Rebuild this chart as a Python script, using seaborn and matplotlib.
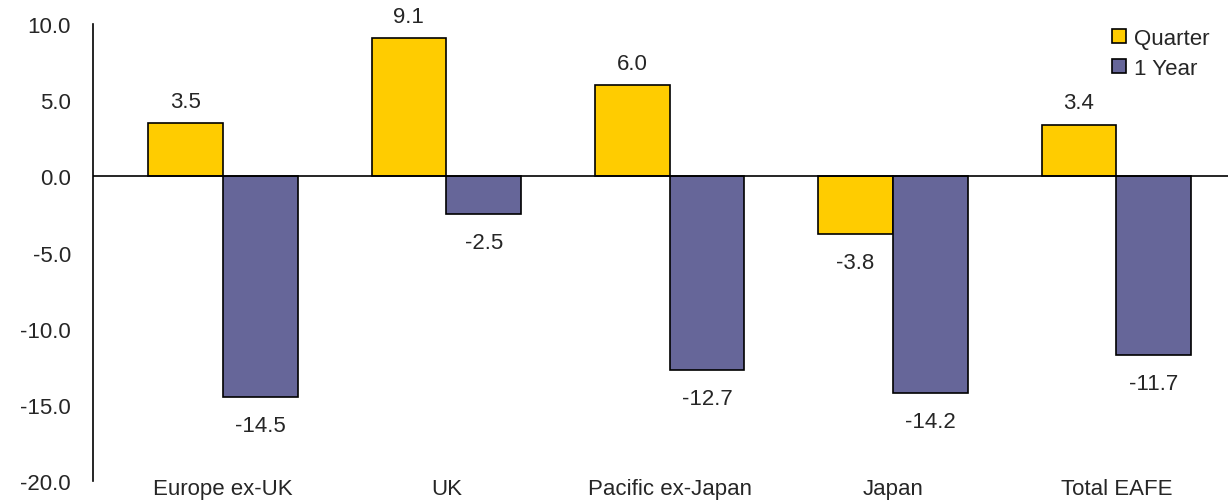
import matplotlib
matplotlib.use("Agg")
import matplotlib.pyplot as plt
import seaborn as sns
import pandas as pd

# chart values
regions = ["Europe ex-UK", "UK", "Pacific ex-Japan", "Japan", "Total EAFE"]
quarter = [3.5, 9.1, 6.0, -3.8, 3.4]
one_year = [-14.5, -2.5, -12.7, -14.2, -11.7]
series_names = ["Quarter", "1 Year"]
colors = ["#FFCC00", "#666699"]
yticks = [10, 5, 0, -5, -10, -15, -20]

df = pd.DataFrame({
    "region": regions * 2,
    "series": [series_names[0]] * len(regions) + [series_names[1]] * len(regions),
    "value": quarter + one_year,
})

sns.set_theme(style="white")
plt.rcParams["font.family"] = ["Liberation Sans", "DejaVu Sans"]
FS = 16

fig = plt.figure(figsize=(12.28, 5.02), dpi=100)
ax = fig.add_axes([93 / 1228, 20 / 502, 1 - 93 / 1228, 457 / 502])

sns.barplot(data=df, x="region", y="value", hue="series", palette=colors,
            width=0.67, edgecolor="black", linewidth=1.2, saturation=1,
            ax=ax, zorder=2)

# value labels
for cont in ax.containers:
    for bar in cont:
        h = bar.get_height()
        xc = bar.get_x() + bar.get_width() / 2
        if h >= 0:
            ax.annotate(f"{h:.1f}", (xc, h), xytext=(0, 8), textcoords="offset points",
                        ha="center", va="bottom", fontsize=FS)
        else:
            ax.annotate(f"{h:.1f}", (xc, h), xytext=(0, -13), textcoords="offset points",
                        ha="center", va="top", fontsize=FS)

ax.axhline(0, color="black", linewidth=1.2, zorder=3)

ax.set_ylim(-20, 10)
ax.set_xlim(-0.582, 4.5)
ax.set_yticks(yticks)
ax.set_yticklabels([f"{v:.1f}" for v in yticks], fontsize=FS)
ax.tick_params(axis="y", direction="out", length=7, width=1.2, color="black", pad=9)
ax.tick_params(axis="x", length=0, pad=-2, labelsize=FS)
ax.set_xlabel("")
ax.set_ylabel("")

for s in ["top", "right", "bottom"]:
    ax.spines[s].set_visible(False)
ax.spines["left"].set_color("black")
ax.spines["left"].set_linewidth(1.2)

leg = ax.legend(loc="upper left", bbox_to_anchor=(0.898, 0.992), frameon=False,
                fontsize=FS, handlelength=0.6, handleheight=0.6, handletextpad=0.4,
                labelspacing=0.4, borderpad=0, borderaxespad=0)
for p in leg.get_patches():
    p.set_edgecolor("black")

fig.savefig("out.png", dpi=100)
